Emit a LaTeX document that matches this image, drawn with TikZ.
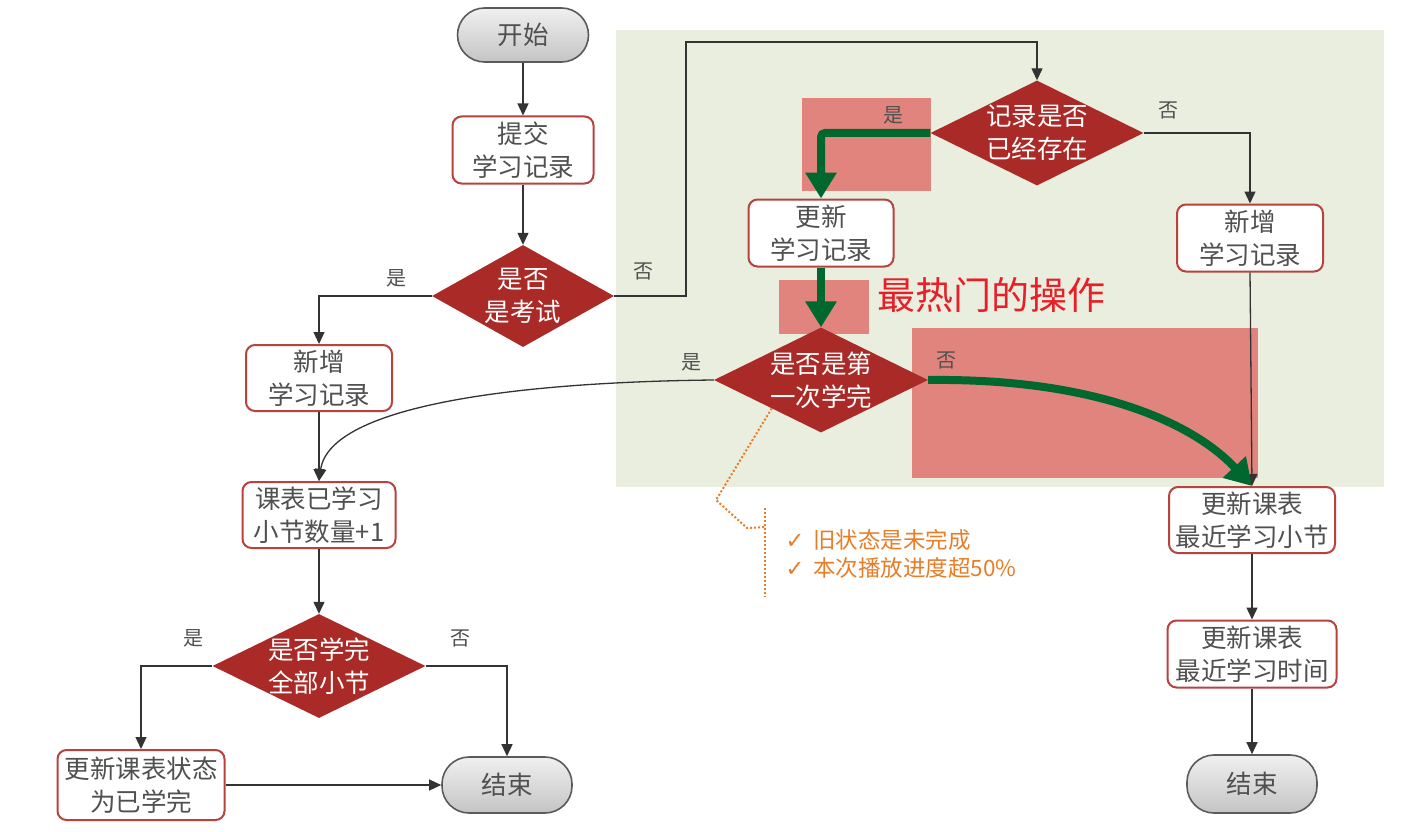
\documentclass[tikz,border=0pt]{standalone}
\usepackage{fontspec}
\setmainfont{Noto Sans CJK SC}
\newfontfamily\dejavu{DejaVu Sans}
\usetikzlibrary{arrows.meta,shapes.geometric,calc}
\definecolor{bggreen}{RGB}{234,238,222}
\definecolor{pinkhl}{RGB}{226,132,126}
\definecolor{diared}{RGB}{170,42,39}
\definecolor{boxred}{RGB}{184,66,62}
\definecolor{txt}{RGB}{80,80,80}
\definecolor{pilltop}{RGB}{240,240,240}
\definecolor{pillbot}{RGB}{196,196,196}
\definecolor{pillborder}{RGB}{90,90,90}
\definecolor{hotgreen}{RGB}{0,104,46}
\definecolor{hotred}{RGB}{232,30,40}
\definecolor{noteorange}{RGB}{232,125,40}
\begin{document}
\begin{tikzpicture}[x=1pt,y=-1pt,
  nodefont/.style={font=\fontsize{25.5}{33}\selectfont},
  box/.style={draw=boxred, line width=2pt, fill=white, rounded corners=9pt, align=center, text=txt, inner sep=0pt, nodefont},
  pill/.style={draw=pillborder, line width=1.6pt, top color=pilltop, bottom color=pillbot, rounded corners=27pt, text=txt, inner sep=0pt, nodefont},
  dia/.style={diamond, fill=diared, draw=none, inner sep=0pt},
  diatext/.style={text=white, align=center, nodefont},
  lab/.style={text=txt, font=\fontsize{20}{24}\selectfont},
  arr/.style={draw=black!80, line width=1.3pt, -{Triangle[length=12pt,width=11pt]}},
  garr/.style={draw=hotgreen, line width=8pt, -{Triangle[length=26pt,width=30pt]}},
  odot/.style={draw=noteorange, line width=2pt, dotted}
]
\useasboundingbox (0,0) rectangle (1426,832);
\fill[white] (0,0) rectangle (1426,832);
% background panel and highlights
\fill[bggreen] (616,30) rectangle (1384,487);
\fill[pinkhl] (802,98) rectangle (931,191);
\fill[pinkhl] (779,280) rectangle (869,334);
\fill[pinkhl] (912,328) rectangle (1258,478);

% nodes
\node[pill, minimum width=131pt, minimum height=54pt] (start) at (523,35) {开始};
\node[box, minimum width=141pt, minimum height=67pt] (b1) at (523,150) {提交\\学习记录};
\node[dia, minimum width=182pt, minimum height=102pt, label={[diatext]center:{是否\\是考试}}] (d1) at (523,296) {};
\node[box, minimum width=146pt, minimum height=66pt] (b2) at (319,378) {新增\\学习记录};
\node[box, minimum width=153pt, minimum height=66pt] (b3) at (319,515) {课表已学习\\小节数量+1};
\node[dia, minimum width=213pt, minimum height=104pt, label={[diatext]center:{是否学完\\全部小节}}] (d4) at (319,666) {};
\node[box, minimum width=167pt, minimum height=70pt] (b7) at (141,785) {更新课表状态\\为已学完};
\node[pill, minimum width=130pt, minimum height=56pt] (end1) at (507,785) {结束};

\node[dia, minimum width=213pt, minimum height=105pt, label={[diatext]center:{记录是否\\已经存在}}] (d2) at (1037,133) {};
\node[box, minimum width=146pt, minimum height=67pt] (b5) at (1250,238) {新增\\学习记录};
\node[box, minimum width=145pt, minimum height=67pt] (b4) at (821,233) {更新\\学习记录};
\node[dia, minimum width=214pt, minimum height=105pt, label={[diatext]center:{是否是第\\一次学完}}] (d3) at (821,380) {};
\node[box, minimum width=166pt, minimum height=66pt] (b6) at (1252,520) {更新课表\\最近学习小节};
\node[box, minimum width=169pt, minimum height=67pt] (b8) at (1252,654) {更新课表\\最近学习时间};
\node[pill, minimum width=130pt, minimum height=58pt] (end2) at (1252,784) {结束};

% labels
\node[lab] (l1) at (396,278) {是};
\node[lab] (l2) at (643,271) {否};
\node[lab] (l3) at (893,115) {是};
\node[lab] (l4) at (1168,110) {否};
\node[lab] (l5) at (691,362) {是};
\node[lab] (l6) at (946,360) {否};
\node[lab] (l7) at (193,638) {是};
\node[lab] (l8) at (460,638) {否};

\node[text=hotred, font=\fontsize{38}{42}\selectfont] (hot) at (991,295) {最热门的操作};
\node[anchor=west, align=left, text=noteorange, font=\fontsize{22.5}{28}\selectfont] (note) at (782,554)
  {{\dejavu ✓}\hspace{9pt}旧状态是未完成\\{\dejavu ✓}\hspace{9pt}本次播放进度超50\%};

% coordinates
\coordinate (c1) at (686,42);
\coordinate (o1) at ($(d3.west)!0.54!(d3.south)$);
\coordinate (o2) at (716,500);
\coordinate (o3) at (747,528);
\coordinate (o4) at (765,527);
\coordinate (o5) at (765,508);
\coordinate (o6) at (765,597);

% connectors
\draw[arr] (start.south) -- (b1.north);
\draw[arr] (b1.south) -- (d1.north);
\draw[arr] (d1.west) -| (b2.north);
\draw[arr] (b2.south) -- (b3.north);
\draw[arr] (b3.south) -- (d4.north);
\draw[arr] (d4.west) -| (b7.north);
\draw[arr] (d4.east) -| (end1.north);
\draw[arr] (b7.east) -- (end1.west);
\draw[arr] (d1.east) -| (c1) -| (d2.north);
\draw[arr] (d2.east) -| (b5.north);
\draw[arr] (b5.south) -- (b6.north);
\draw[arr] (d3.west) .. controls (520,382) and (330,405) .. (b3.north);
\draw[arr] (b6.south) -- (b8.north);
\draw[arr] (b8.south) -- (end2.north);

\draw[odot] (o1) -- (o2) -- (o3) -- (o4);
\draw[odot] (o5) -- (o6);

% hot path
\draw[garr, rounded corners=4pt] (d2.west) -| (b4.north);
\draw[garr] (b4.south) -- (d3.north);
\draw[garr] (d3.east) .. controls (1100,378) and (1195,425) .. (b6.north);
\end{tikzpicture}
\end{document}
